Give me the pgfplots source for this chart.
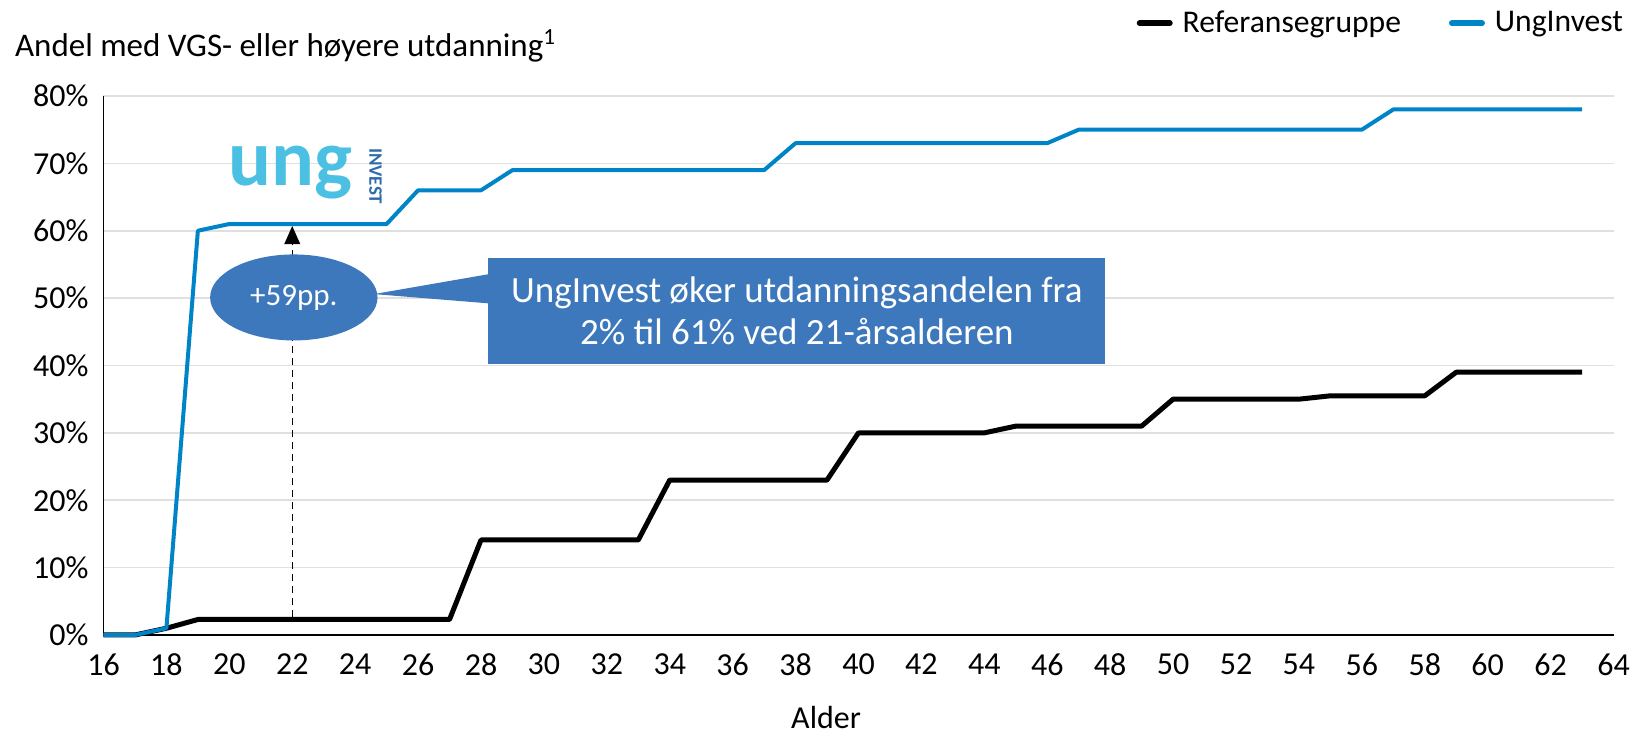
\documentclass[border=0pt]{standalone}
\usepackage{fontspec}
\setmainfont{Carlito}
\usepackage{pgfplots}
\pgfplotsset{compat=1.18}
\usetikzlibrary{shapes.geometric, arrows.meta}
\definecolor{ublue}{RGB}{0,132,200}
\definecolor{cbox}{RGB}{61,120,188}
\definecolor{gridc}{RGB}{224,224,224}
\definecolor{logolight}{RGB}{76,192,226}
\definecolor{logodark}{RGB}{46,107,170}
\begin{document}
\begin{tikzpicture}
\begin{axis}[
  width=755pt, height=269.5pt, scale only axis,
  xmin=16, xmax=64, ymin=0, ymax=80,
  xtick={16,18,...,64}, ytick={0,10,...,80},
  yticklabel={\pgfmathprintnumber{\tick}\%},
  /pgf/number format/assume math mode=true,
  axis x line*=bottom, axis y line*=left,
  x axis line style={-, line width=1.3pt},
  y axis line style={-, line width=0.6pt},
  major tick length=0pt,
  ymajorgrids, grid style={gridc, line width=0.8pt},
  ticklabel style={font=\fontsize{16}{16}\selectfont},
  xticklabel style={yshift=-6pt},
  yticklabel style={xshift=-4pt},
  clip=false,
  legend columns=2,
  legend style={draw=none, fill=none, at={(1.0132,1.135)}, anchor=east,
    font=\fontsize{15.8}{15.8}\selectfont, inner sep=0pt,
    /tikz/every even column/.append style={column sep=19pt},
    nodes={inner xsep=5pt}},
  legend image code/.code={\draw[#1, line width=3pt, line cap=round] (0pt,0pt) -- (15pt,0pt);},
]
\addplot[black, line width=2.5pt, line join=round] coordinates {
(16,0) (17,0) (18,1) (19,2.3) (20,2.3) (21,2.3) (22,2.3) (23,2.3) (24,2.3) (25,2.3) (26,2.3) (27,2.3)
(28,14.1) (29,14.1) (30,14.1) (31,14.1) (32,14.1) (33,14.1)
(34,23) (35,23) (36,23) (37,23) (38,23) (39,23)
(40,30) (41,30) (42,30) (43,30) (44,30)
(45,31) (46,31) (47,31) (48,31) (49,31)
(50,35) (51,35) (52,35) (53,35) (54,35)
(55,35.5) (56,35.5) (57,35.5) (58,35.5)
(59,39) (60,39) (61,39) (62,39) (63,39)};
\addlegendentry{Referansegruppe}
\addplot[ublue, line width=2pt, line join=round] coordinates {
(16,0) (17,0) (18,1) (19,60) (20,61) (21,61) (22,61) (23,61) (24,61) (25,61)
(26,66) (27,66) (28,66)
(29,69) (30,69) (31,69) (32,69) (33,69) (34,69) (35,69) (36,69) (37,69)
(38,73) (39,73) (40,73) (41,73) (42,73) (43,73) (44,73) (45,73) (46,73)
(47,75) (48,75) (49,75) (50,75) (51,75) (52,75) (53,75) (54,75) (55,75) (56,75)
(57,78) (58,78) (59,78) (60,78) (61,78) (62,78) (63,78)};
\addlegendentry{UngInvest}
% annotations
\draw[black, dashed, dash pattern=on 3.5pt off 2.5pt, line width=0.7pt] (axis cs:22,2.6) -- (axis cs:22,58.5);
\fill[black] (axis cs:22,60.7) -- ++(-4pt,-9pt) -- ++(8pt,0pt) -- cycle;
\fill[cbox] (axis cs:24.6,50.6) -- (axis cs:28.3,53.6) -- (axis cs:28.3,49.2) -- cycle;
\node[ellipse, fill=cbox, inner sep=0pt, minimum width=83.7pt, minimum height=43pt, text=white,
  font=\fontsize{15.5}{15.5}\selectfont] at (axis cs:22.05,50.1) {+59pp.};
\fill[cbox] (axis cs:28.23,40.2) rectangle (axis cs:47.85,55.9);
\node[text=white, align=center, font=\fontsize{18.5}{21}\selectfont] at (axis cs:38.04,48.05)
  {UngInvest øker utdanningsandelen fra\\2\% til 61\% ved 21-årsalderen};
\node[font=\fontsize{40}{40}\selectfont\bfseries, text=logolight, inner sep=0pt] at (axis cs:21.95,68.6) {ung};
\node[rotate=-90, font=\fontsize{9.5}{9.5}\selectfont\bfseries, text=logodark, inner sep=0pt] at (axis cs:24.65,68.1) {INVEST};
\end{axis}
\node[anchor=west, font=\fontsize{16.5}{16.5}\selectfont, inner sep=0pt] at (-44.4pt,294.5pt)
  {Andel med VGS- eller høyere utdanning\textsuperscript{1}};
\node[font=\fontsize{16}{16}\selectfont, inner sep=0pt] at (361.3pt,-41.5pt) {Alder};
\pgfresetboundingbox
\useasboundingbox (-51.75pt,-51pt) rectangle (768.25pt,317.5pt);
\end{tikzpicture}
\end{document}
